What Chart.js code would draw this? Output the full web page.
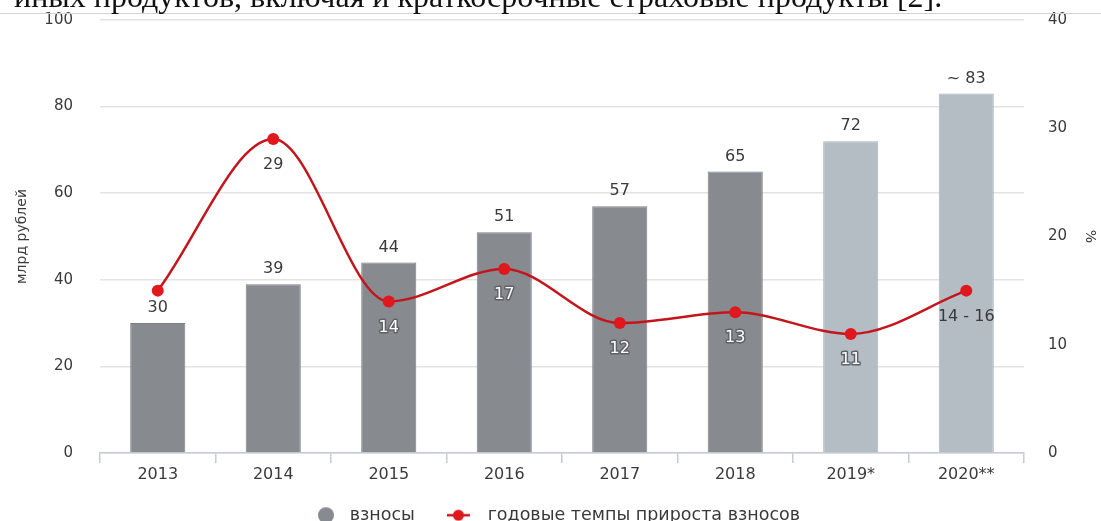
<!DOCTYPE html>
<html lang="ru">
<head>
<meta charset="utf-8">
<title>Взносы и годовые темпы прироста</title>
<script src="https://cdn.jsdelivr.net/npm/chart.js@4.4.1/dist/chart.umd.min.js"></script>
<style>
  html, body { margin: 0; padding: 0; background: #fff; overflow: hidden; }
  #page { position: relative; width: 1101px; height: 521px; overflow: hidden; }
  #lead {
    position: absolute; left: 14px; top: -20px; margin: 0;
    font-family: "Liberation Serif", "Times New Roman", serif;
    font-size: 32px; line-height: 1; color: #111; white-space: nowrap; z-index: 2;
  }
  #rule { position: absolute; left: 0; top: 13px; width: 1101px; height: 0;
          border-top: 1.5px solid #d3d3d3; z-index: 1; }
  #wrap { position: absolute; left: 0; top: 0; width: 1101px; height: 534px; }
</style>
</head>
<body>
<div id="page">
  <p id="lead">иных продуктов, включая и краткосрочные страховые продукты [2].</p>
  <div id="rule"></div>
  <div id="wrap"><canvas id="chart"></canvas></div>
</div>
<script>
// Годы (звёздочка — оценка / прогноз)
const years = ['2013', '2014', '2015', '2016', '2017', '2018', '2019*', '2020**'];
// Взносы, млрд рублей
const premiums = [30, 39, 44, 51, 57, 65, 72, 83];
const premiumLabels = ['30', '39', '44', '51', '57', '65', '72', '~ 83'];
// Годовые темпы прироста взносов, %
const growth = [15, 29, 14, 17, 12, 13, 11, 15];
const growthLabels = ['', '29', '14', '17', '12', '13', '11', '14 - 16'];
// Деления осей
const leftTicks = [0, 20, 40, 60, 80, 100];
const rightTicks = [0, 10, 20, 30, 40];

const FONT = '"DejaVu Sans", "Noto Sans", sans-serif';
const DARK_BAR = '#878b8f';
const LIGHT_BAR = '#b4bcc4';
const RED_LINE = '#c3161c';
const RED_DOT = '#e0171d';
const TEXT = '#3a3a3a';

const isForecast = (i) => years[i].includes('*');

// Значок легенды: серый круг
function circleIcon() {
  const c = document.createElement('canvas');
  c.width = 60; c.height = 18;
  const g = c.getContext('2d');
  g.fillStyle = DARK_BAR;
  g.beginPath(); g.arc(35, 9, 8, 0, Math.PI * 2); g.fill();
  return c;
}
// Значок легенды: линия с точкой
function lineIcon() {
  const c = document.createElement('canvas');
  c.width = 60; c.height = 16;
  const g = c.getContext('2d');
  g.strokeStyle = RED_LINE; g.lineWidth = 2.5;
  g.beginPath(); g.moveTo(18, 8); g.lineTo(41, 8); g.stroke();
  g.fillStyle = RED_DOT;
  g.beginPath(); g.arc(29.5, 8, 5.5, 0, Math.PI * 2); g.fill();
  return c;
}
const legendIcons = [circleIcon(), lineIcon()];

// Подписи значений над столбцами и под точками линии
const valueLabels = {
  id: 'valueLabels',
  afterDatasetsDraw(chart) {
    const ctx = chart.ctx;
    const bars = chart.getDatasetMeta(0).data;
    const points = chart.getDatasetMeta(1).data;
    ctx.save();
    ctx.font = '16px ' + FONT;
    ctx.textAlign = 'center';
    ctx.textBaseline = 'middle';
    bars.forEach((bar, i) => {
      ctx.fillStyle = TEXT;
      ctx.fillText(premiumLabels[i], bar.x, bar.y - 15);
    });
    points.forEach((pt, i) => {
      const text = growthLabels[i];
      if (!text) return;
      const y = pt.y + 26;
      const inside = y > bars[i].y + 8 && !text.includes('-');
      if (inside) {
        ctx.lineJoin = 'round';
        ctx.lineWidth = 3;
        ctx.strokeStyle = '#5f6367';
        ctx.strokeText(text, pt.x, y);
        ctx.fillStyle = '#ffffff';
      } else {
        ctx.fillStyle = TEXT;
      }
      ctx.fillText(text, pt.x, y);
    });
    ctx.restore();
  }
};

const ctx = document.getElementById('chart');
new Chart(ctx, {
  data: {
    labels: years,
    datasets: [
      {
        type: 'bar',
        label: 'взносы',
        data: premiums,
        yAxisID: 'y',
        order: 2,
        backgroundColor: (c) => isForecast(c.dataIndex) ? LIGHT_BAR : DARK_BAR,
        borderColor: (c) => isForecast(c.dataIndex) ? '#a9b1b9' : '#7b7f83',
        borderWidth: 1,
        barPercentage: 0.477,
        categoryPercentage: 1
      },
      {
        type: 'line',
        label: 'годовые темпы прироста взносов',
        data: growth,
        yAxisID: 'y1',
        order: 1,
        borderColor: RED_LINE,
        borderWidth: 2.5,
        cubicInterpolationMode: 'monotone',
        pointStyle: 'circle',
        pointRadius: 6,
        pointBackgroundColor: RED_DOT,
        pointBorderColor: RED_DOT,
        pointBorderWidth: 0,
        fill: false
      }
    ]
  },
  options: {
    responsive: true,
    maintainAspectRatio: false,
    animation: false,
    layout: { padding: { top: 20, left: 0, right: 0, bottom: 0 } },
    plugins: {
      tooltip: { enabled: false },
      legend: {
        position: 'bottom',
        labels: {
          usePointStyle: true,
          pointStyleWidth: 40,
          boxHeight: 17.5,
          padding: 24,
          color: TEXT,
          font: { family: FONT, size: 17.5 },
          sort: (a, b) => a.datasetIndex - b.datasetIndex,
          generateLabels(chart) {
            const items = Chart.defaults.plugins.legend.labels.generateLabels(chart);
            items.forEach((it) => { it.pointStyle = legendIcons[it.datasetIndex]; });
            return items;
          }
        }
      }
    },
    scales: {
      x: {
        offset: true,
        grid: { display: true, offset: true, drawOnChartArea: false, drawTicks: true,
                tickLength: 10, color: '#c6cad4', lineWidth: 1.5 },
        border: { display: true, color: '#c6cad4', width: 1.5 },
        ticks: { color: TEXT, font: { family: FONT, size: 16 }, padding: 2 },
        afterFit(scale) {
          const legendH = scale.chart.legend ? scale.chart.legend.height : 0;
          scale.height = Math.max(10, scale.chart.height - legendH - 453);
        }
      },
      y: {
        position: 'left',
        min: 0, max: 100,
        afterBuildTicks(scale) { scale.ticks = leftTicks.map((v) => ({ value: v })); },
        grid: { color: '#e3e3e3', lineWidth: 1.5, drawTicks: true, tickLength: 27,
                tickColor: 'rgba(0,0,0,0)' },
        border: { display: false },
        ticks: { color: TEXT, font: { family: FONT, size: 15 }, padding: 0 },
        title: { display: true, text: 'млрд рублей', color: TEXT,
                 font: { family: FONT, size: 14 }, padding: { top: 14, bottom: 0 } },
        afterFit(scale) { scale.width = 100; }
      },
      y1: {
        position: 'right',
        min: 0, max: 40,
        afterBuildTicks(scale) { scale.ticks = rightTicks.map((v) => ({ value: v })); },
        grid: { drawOnChartArea: false, drawTicks: true, tickLength: 24,
                tickColor: 'rgba(0,0,0,0)' },
        border: { display: false },
        ticks: { color: TEXT, font: { family: FONT, size: 15 }, padding: 0 },
        title: { display: true, text: '%', color: TEXT,
                 font: { family: FONT, size: 14 }, padding: { top: 3, bottom: 0 } },
        afterFit(scale) { scale.width = 77; }
      }
    }
  },
  plugins: [valueLabels]
});
</script>
</body>
</html>
